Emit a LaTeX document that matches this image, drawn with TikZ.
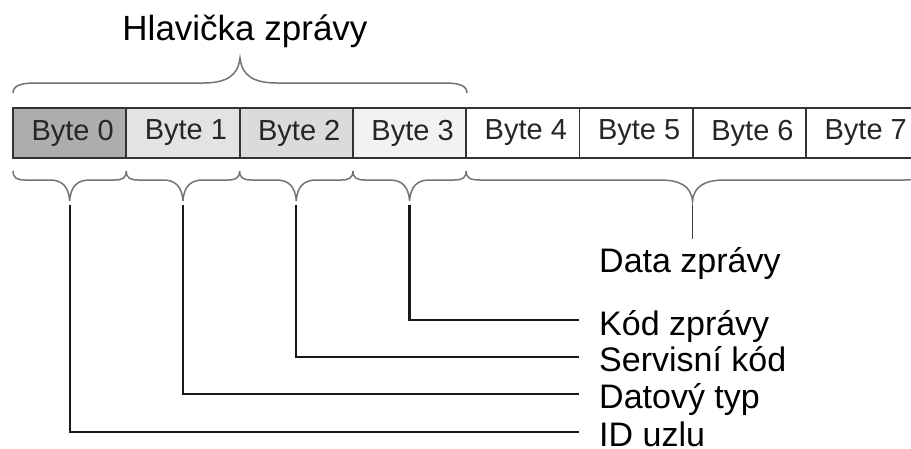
\documentclass[tikz,border=0pt]{standalone}
\usepackage{fontspec}
\setmainfont{Liberation Sans}
\begin{document}
\begin{tikzpicture}[x=1pt,y=-1pt,
  cell/.style={draw=black!80,line width=1.8pt,minimum width=113.3pt,minimum height=50pt,inner sep=0pt,
    font=\fontsize{29}{34}\selectfont,text=black!85},
  bracepath/.style={draw=black!55,line width=1.5pt},
  conn/.style={draw=black!90,line width=2.2pt},
  lbl/.style={anchor=base west,inner sep=0pt,font=\fontsize{34}{40}\selectfont},
  title/.style={anchor=base,inner sep=0pt,font=\fontsize{35}{40}\selectfont}]
\useasboundingbox (0,0) rectangle (911,448);
\clip (0,0) rectangle (911,448);
% title
\node[title] (hl) at (245,40) {Hlavička zprávy};
% top brace
\draw[bracepath] (13,93) .. controls (13,86) and (20,83) .. (35,83) -- (203,83)
  .. controls (226,83) and (238,76) .. (240,58)
  .. controls (242,76) and (254,83) .. (277,83) -- (445,83)
  .. controls (460,83) and (467,86) .. (467,93);
% byte cells
\node[cell,fill=black!32] (b0) at (69.65,133) {\hspace*{6pt}Byte 0};
\node[cell,fill=black!11] (b1) at (182.95,133) {\hspace*{6pt}Byte 1};
\node[cell,fill=black!14] (b2) at (296.25,133) {\hspace*{6pt}Byte 2};
\node[cell,fill=black!5] (b3) at (409.55,133) {\hspace*{6pt}Byte 3};
\node[cell,fill=white] (b4) at (522.85,133) {\hspace*{6pt}Byte 4};
\node[cell,fill=white] (b5) at (636.15,133) {\hspace*{6pt}Byte 5};
\node[cell,fill=white] (b6) at (749.45,133) {\hspace*{6pt}Byte 6};
\node[cell,fill=white] (b7) at (862.75,133) {\hspace*{6pt}Byte 7};
% lower braces, one per header byte
\foreach \L/\C/\R in {13/69.65/126.3, 126.3/182.95/239.6, 239.6/296.25/352.9, 352.9/409.55/466.2}{
  \draw[bracepath] (\L,171) .. controls (\L,178) and (\L+4,180) .. (\L+12,180) -- (\C-20,180)
    .. controls (\C-8,180) and (\C-1,186) .. (\C,201)
    .. controls (\C+1,186) and (\C+8,180) .. (\C+20,180) -- (\R-12,180)
    .. controls (\R-4,180) and (\R,178) .. (\R,171);
}
% data brace
\draw[bracepath] (466.2,171) .. controls (466.2,178) and (470,180) .. (480,180) -- (660,180)
  .. controls (680,180) and (691,186) .. (692.5,201)
  .. controls (694,186) and (705,180) .. (725,180) -- (905,180)
  .. controls (915,180) and (919.4,178) .. (919.4,171);
% brace tips
\coordinate (t0) at (69.65,205);
\coordinate (t1) at (182.95,205);
\coordinate (t2) at (296.25,205);
\coordinate (t3) at (409.55,205);
\coordinate (td) at (692.5,205);
\coordinate (ed) at (692.5,239);
% connector ends
\coordinate (e3) at (579,320);
\coordinate (e2) at (579,357);
\coordinate (e1) at (579,394);
\coordinate (e0) at (579,432);
% labels
\node[lbl] (ldata) at (599,272) {Data zprávy};
\node[lbl] (lkod) at (599,335) {Kód zprávy};
\node[lbl] (lserv) at (599,371) {Servisní kód};
\node[lbl] (ltyp) at (599,408) {Datový typ};
\node[lbl] (lid) at (599,446) {ID uzlu};
% connectors
\draw[conn] (t3) |- (e3);
\draw[conn] (t2) |- (e2);
\draw[conn] (t1) |- (e1);
\draw[conn] (t0) |- (e0);
\draw[conn,line width=1.8pt,draw=black!75] (td) -- (ed);
\end{tikzpicture}
\end{document}
